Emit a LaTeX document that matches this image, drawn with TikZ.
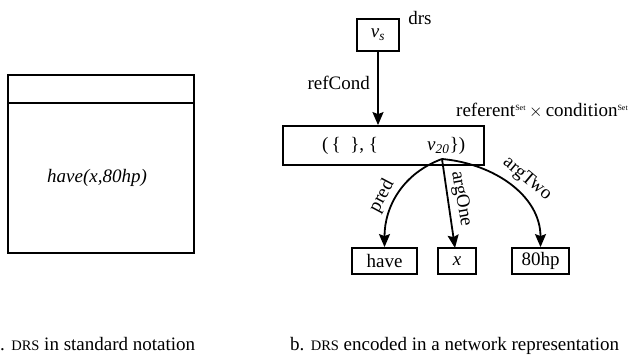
\documentclass[tikz,border=0pt]{standalone}
\usepackage{fontspec}
\setmainfont{Liberation Serif}
\usetikzlibrary{arrows.meta}
\newcommand\drscap{{\fontsize{14.5}{14.5}\selectfont DRS}}
\newcommand\setsup{\textsuperscript{\fontsize{8}{8}\selectfont Set}}
\begin{document}
\begin{tikzpicture}[x=1pt,y=-1pt,
  every node/.style={font=\fontsize{19}{22}\selectfont},
  box/.style={draw, line width=1.8pt, inner sep=0pt, minimum height=26pt},
  conn/.style={line width=1.8pt, -{Stealth[length=13pt,width=11pt,inset=2pt]}},
  txt/.style={inner sep=0pt}]
\useasboundingbox (0,0) rectangle (632,358);
% --- a. standard notation
\node[draw, line width=1.8pt, inner sep=0pt, minimum width=186pt, minimum height=178pt] (drsbox) at (101,164) {};
\coordinate (divl) at (8,103);
\coordinate (divr) at (194,103);
\draw[line width=1.8pt] (divl) -- (divr);
\node[txt] (cond) at (97,178) {\textit{have(x,80hp)}};
\node[txt, anchor=base west] (capa) at (0,350) {. \drscap{} in standard notation};
% --- b. network representation
\node[box, minimum width=42pt, minimum height=32pt] (vs) at (378,35) {\textit{v}\textsubscript{\textit{s}}};
\node[txt, anchor=base] (drslbl) at (420,25) {drs};
\node[box, minimum width=201pt, minimum height=39pt] (set) at (383.5,145.5) {};
\node[txt, anchor=base west] (settext) at (322,151) {(\,\{\ \ \},\ \{};
\node[txt, anchor=base west] (v20) at (427,151) {\textit{v}\textsubscript{\textit{20}}};
\node[txt, anchor=base west] (close) at (v20.base east) {\})};
\node[txt, anchor=base west] (reflbl) at (456,117) {referent\setsup\,$\times$\,condition\setsup};
\draw[conn] (vs.south) -- (vs.south |- set.north);
\node[txt, anchor=base east] (refcond) at (370,90) {refCond};
\coordinate (vtip) at (442,159);
\node[box, minimum width=65pt] (have) at (384.5,261) {have};
\node[box, minimum width=38pt] (xb) at (457,261) {\textit{x}};
\node[box, minimum width=57pt] (hp) at (540.5,261) {80hp};
\draw[conn] (vtip) to[out=200,in=90] (have.north);
\draw[conn] (vtip) -- (455,248);
\draw[conn] (vtip) to[out=-5,in=90] (hp.north);
\node[txt, rotate=62] (lpred) at (382,196) {pred};
\node[txt, rotate=-80] (lone) at (461,199) {argOne};
\node[txt, rotate=-40] (ltwo) at (527,179) {argTwo};
\node[txt, anchor=base west] (capb) at (290,350) {b. \drscap{} encoded in a network representation};
\end{tikzpicture}
\end{document}
